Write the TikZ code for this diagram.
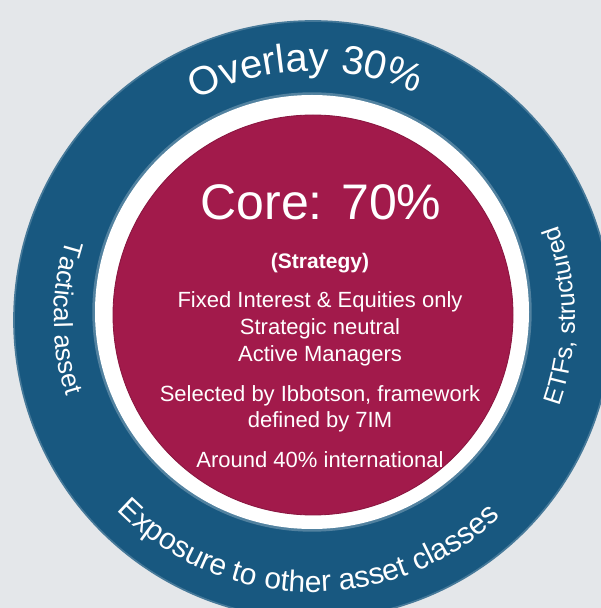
\documentclass[tikz,border=0pt]{standalone}
\usepackage{fontspec}
\setmainfont{Liberation Sans}
\usetikzlibrary{calc,decorations.text}
\definecolor{ringblue}{RGB}{24,88,128}
\definecolor{corered}{RGB}{162,26,75}
\definecolor{backgrey}{RGB}{228,231,234}
\newcommand\ringpct{\%}
\def\arctext(#1)(#2:#3:#4)#5{\path[decorate,decoration={text along path,text align=center,text color=white,text={#5}}] ($(#1)+({#4*cos(#2)},{#4*sin(#2)})$) arc (#2:#3:#4);}

\begin{document}
\begin{tikzpicture}[x=1pt,y=1pt,
	coreline/.style={text=white, anchor=base, inner sep=0pt, font=\fontsize{22}{26}\selectfont}]
		%%%%% START %%%%%
		
		\useasboundingbox (0,0) rectangle (601,608);
		\clip (0,0) rectangle (601,608);
		\fill[backgrey] (0,0) rectangle (601,608);
		
		\draw[fill=ringblue, draw=ringblue!80!white, line width=0.6mm] (313,288) circle (299);
		\draw[line width=1.2mm, color=ringblue!75!white] (312,296) circle (218);
		\fill[white] (312,296) circle (217);
		\draw[fill=corered, draw=corered!85!black, line width=0.3mm] (313,293) circle (200);
		
		\node[coreline, font=\fontsize{50}{60}\selectfont] (core) at (321,388) {Core: 70\%};
		\node[coreline, font=\fontsize{21}{25}\selectfont\bfseries] (strategy) at (320,339) {(Strategy)};
		
		\node[coreline] (fixed) at (320,300) {Fixed Interest \& Equities only};
		\node[coreline] (neutral) at (320,273) {Strategic neutral};
		\node[coreline] (managers) at (320,246) {Active Managers};
		
		\node[coreline] (selected) at (320,206) {Selected by Ibbotson, framework};
		\node[coreline] (defined) at (320,180) {defined by 7IM};
		
		\node[coreline] (international) at (320,140) {Around 40\% international};
		
		\arctext(312,290)(150:33:247){|\fontsize{40}{44}\selectfont|Overlay 30{\ringpct}}
		\arctext(312,290)(150:210:258){|\fontsize{26}{30}\selectfont|Tactical asset}
		\arctext(312,290)(-30:31:263){|\fontsize{25}{30}\selectfont|ETFs, structured}
		\arctext(312,290)(209:329:274){|\fontsize{30}{34}\selectfont|Exposure to other asset classes}
		
		%%%%% END %%%%%
\end{tikzpicture}
\end{document}
